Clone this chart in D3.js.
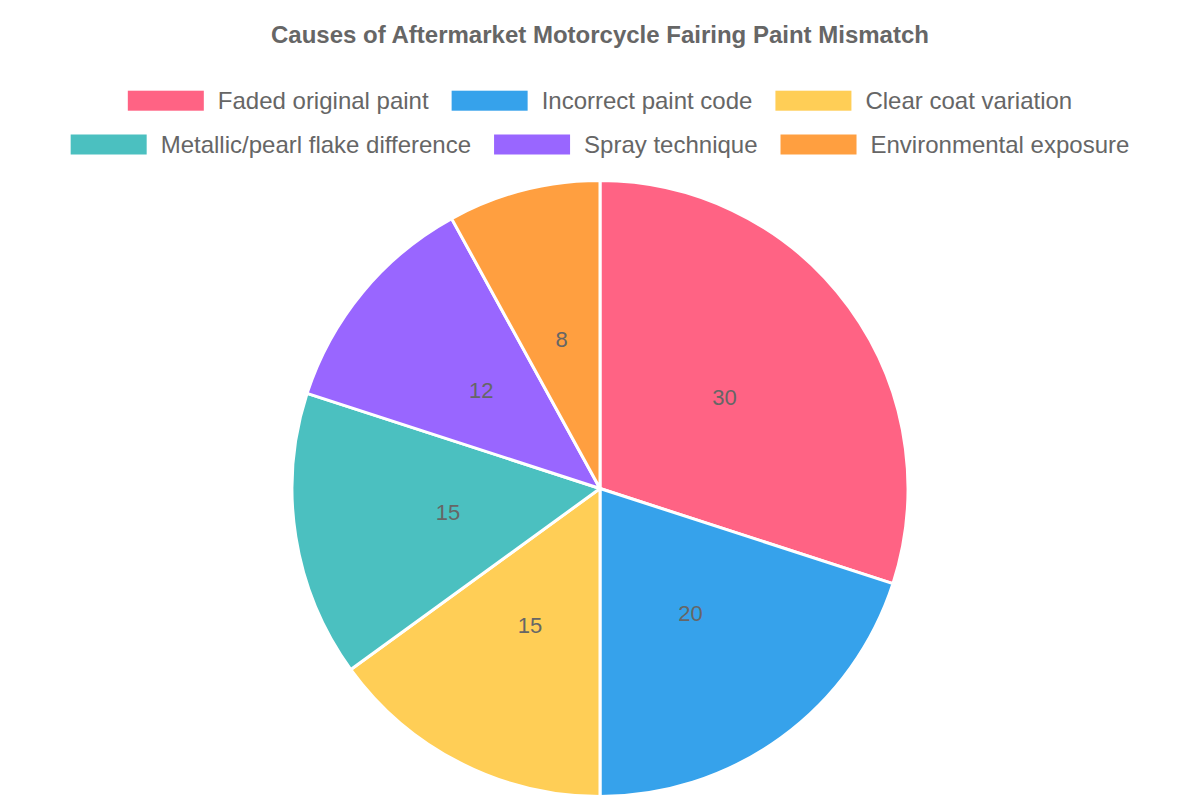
<!DOCTYPE html>
<html>
<head>
<meta charset="utf-8">
<script src="https://cdn.jsdelivr.net/npm/d3@7"></script>
<style>
  html, body { margin: 0; padding: 0; background: #fff; }
  svg { display: block; font-family: "Liberation Sans", Arial, Helvetica, sans-serif; }
</style>
</head>
<body>
<svg id="chart" width="1200" height="800"></svg>
<script>
const title = "Causes of Aftermarket Motorcycle Fairing Paint Mismatch";
const categories = ["Faded original paint", "Incorrect paint code", "Clear coat variation",
  "Metallic/pearl flake difference", "Spray technique", "Environmental exposure"];
const values = [30, 20, 15, 15, 12, 8];
const colors = ["#FF6384", "#36A2EB", "#FFCE56", "#4BC0C0", "#9966FF", "#FF9F40"];
const legendRows = [[0, 1, 2], [3, 4, 5]];

const W = 1200, cx = 600, cy = 488.5, R = 308;
const svg = d3.select("#chart");

svg.append("text")
  .attr("x", W / 2).attr("y", 34)
  .attr("text-anchor", "middle").attr("dominant-baseline", "central")
  .attr("font-size", 24).attr("font-weight", "bold").attr("fill", "#666")
  .text(title);

// Legend
const boxW = 76, boxH = 20, gap = 14, pad = 23, fs = 24;
const rowY = [100.7, 144.5];
const legend = svg.append("g");
legendRows.forEach((row, ri) => {
  const g = legend.append("g");
  let x = 0;
  row.forEach(i => {
    const item = g.append("g").attr("transform", `translate(${x},0)`);
    item.append("rect").attr("x", 0).attr("y", rowY[ri] - boxH / 2)
      .attr("width", boxW).attr("height", boxH).attr("fill", colors[i]);
    const t = item.append("text").attr("x", boxW + gap).attr("y", rowY[ri])
      .attr("dominant-baseline", "central").attr("font-size", fs).attr("fill", "#666")
      .text(categories[i]);
    const tw = t.node().getComputedTextLength();
    x += boxW + gap + tw + pad;
  });
  const total = x - pad;
  g.attr("transform", `translate(${(W - total) / 2},0)`);
});

// Pie
const pie = d3.pie().sort(null).value(d => d)(values);
const arc = d3.arc().innerRadius(0).outerRadius(R);
const labelArc = d3.arc().innerRadius(R / 2).outerRadius(R / 2);
const pg = svg.append("g").attr("transform", `translate(${cx},${cy})`);
pg.selectAll("path").data(pie).join("path")
  .attr("d", arc)
  .attr("fill", (d, i) => colors[i])
  .attr("stroke", "#fff").attr("stroke-width", 3).attr("stroke-linejoin", "round");
pg.selectAll("text").data(pie).join("text")
  .attr("transform", d => `translate(${labelArc.centroid(d)})`)
  .attr("text-anchor", "middle").attr("dominant-baseline", "central")
  .attr("font-size", 22).attr("fill", "#666")
  .text(d => d.data);
</script>
</body>
</html>
